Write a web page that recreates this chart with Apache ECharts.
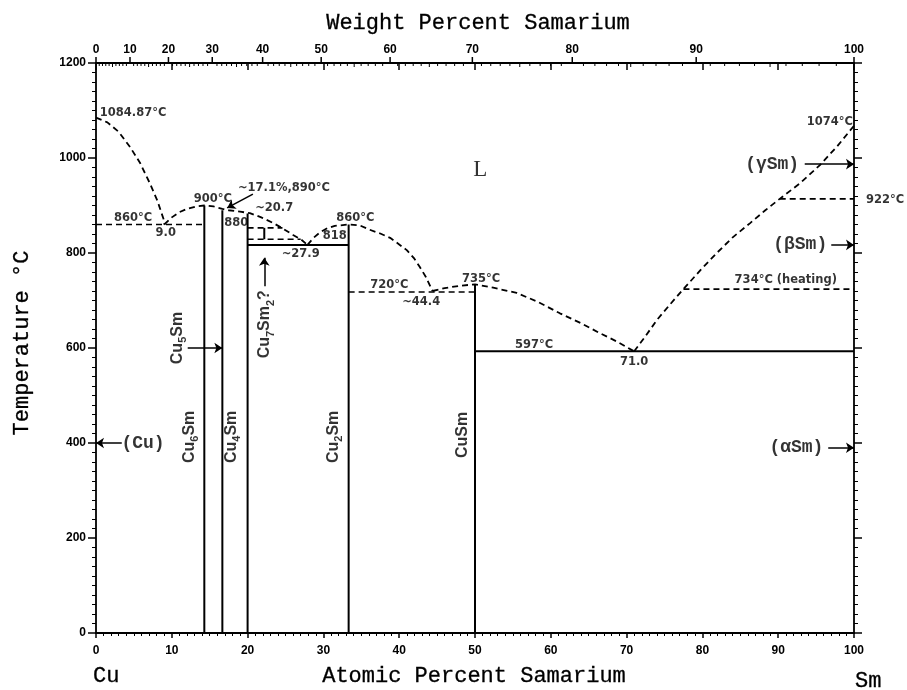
<!DOCTYPE html>
<html><head><meta charset="utf-8">
<script src="https://cdn.jsdelivr.net/npm/echarts@6.0.0/dist/echarts.min.js"></script>
<style>html,body{margin:0;padding:0;background:#fff}#c{width:907px;height:690px}</style>
</head><body><div id="c"></div>
<script>
// ---------- data (atomic % Sm, temperature °C) ----------
const atTicks = [0,10,20,30,40,50,60,70,80,90,100];
const tempTicks = [0,200,400,600,800,1000,1200];
const wtLabels = [0,10,20,30,40,50,60,70,80,90,100];

const cuLiquidus   = [[0,1085],[1.5,1075],[3,1055],[4.5,1023],[5.8,990],[7.1,947],[8.1,910],[8.9,872],[9,860]];
const cu6SmLiquidus = [[9,860],[10,875],[11,886],[12,893],[13.2,898],[14.29,900],[15.5,898],[16.67,893],[17.5,890],[19,887],[20.3,884],[21.8,875],[23.4,863],[24.7,851],[26,838],[27.1,828],[27.9,817]];
const cu2SmLiquidus = [[27.9,817],[28.7,832],[29.6,844],[30.5,852],[31.5,857],[33.33,860],[34.8,858],[36.1,849],[37.5,841],[38.8,832],[40,818],[41,806],[42,788],[42.7,771],[43.5,750],[44.4,720]];
const cuSmLiquidus  = [[44.4,720],[46,726],[48,731],[50,734],[52.4,727],[55.5,716],[58.3,697],[61.2,673],[64,652],[66.5,631],[68.8,613],[71,593]];
const smLiquidus    = [[71,593],[72.5,625],[74,659],[75.8,693],[77.5,724],[79.8,765],[81.9,800],[84,833],[86.3,863],[88.3,890],[90.2,914],[92.9,947],[95.5,985],[97.8,1025],[100,1068]];

const dashedIsotherms = [
  [[0,860],[14.29,860]],
  [[20,853],[24.6,853]],
  [[20,829],[27,829]],
  [[33.33,718],[50,718]],
  [[77.5,724],[100,724]],
  [[90.2,914],[100,914]]
];
const solidLines = [
  [[14.29,0],[14.29,900]],
  [[16.67,0],[16.67,890]],
  [[20,0],[20,883]],
  [[20,817],[33.33,817]],
  [[33.33,0],[33.33,860]],
  [[50,0],[50,734]],
  [[50,593],[100,593]],
  [[22.2,829],[22.2,853]]
];
const arrows = [
  [[3.4,400],[0,400]],
  [[12.1,600],[16.67,600]],
  [[22.2,730],[22.2,790]],
  [[93.5,987],[100,987]],
  [[97.0,817],[100,817]],
  [[96.6,390],[100,390]],
  [[20.7,924],[17.3,895]]
];
// [text, at%, °C, align]
const notes = [
  ['1084.87°C',0.5,1095,'left'],
  ['860°C',4.9,874,'center'],
  ['9.0',9.2,842,'center'],
  ['900°C',15.4,914,'center'],
  ['~17.1%,890°C',24.8,937,'center'],
  ['880',18.5,863,'center'],
  ['~20.7',23.5,895,'center'],
  ['818',31.5,836,'center'],
  ['~27.9',27.0,798,'center'],
  ['860°C',34.2,874,'center'],
  ['720°C',38.7,733,'center'],
  ['~44.4',42.9,697,'center'],
  ['735°C',50.8,745,'center'],
  ['597°C',57.8,606,'center'],
  ['71.0',71.0,571,'center'],
  ['734°C (heating)',91.0,743,'center'],
  ['922°C',104.1,912,'center'],
  ['1074°C',96.8,1076,'center']
];
const phaseNotes = [
  ['(γSm)',89.2,987],
  ['(βSm)',92.9,817],
  ['(αSm)',92.4,390],
  ['(Cu)',6.2,400]
];
// vertical compound labels: [formatter, at%, °C]
const compounds = [
  ['{n|Cu}{s|6}{n|Sm}',12.3,413],
  ['{n|Cu}{s|4}{n|Sm}',17.9,413],
  ['{n|Cu}{s|2}{n|Sm}',31.3,413],
  ['{n|CuSm}',48.4,417],
  ['{n|Cu}{s|5}{n|Sm}',10.8,621],
  ['{n|Cu}{s|7}{n|Sm}{s|2}{n|?}',22.3,650]
];

function wtToAt(w){
  if (w >= 100) return 100;
  const a = w/150.36, b = (100-w)/63.546;
  return a/(a+b)*100;
}
const wtTickValues = [];
for (let w=0; w<=100; w++) wtTickValues.push(w);

const SANS = '"Liberation Sans", Arial, sans-serif';
const DSANS = '"DejaVu Sans", "Liberation Sans", sans-serif';
const MONO = '"Liberation Mono", "Courier New", monospace';
const SERIF = '"Liberation Serif", "Times New Roman", serif';

const chart = echarts.init(document.getElementById('c'), null, {renderer:'canvas'});
const series = [];
function lineSeries(data, dashed, w){
  series.push({type:'line', data, showSymbol:false, symbol:'none', silent:true, animation:false,
    lineStyle:{color:'#000', width:w, type: dashed ? [6,4] : 'solid'}, z:3});
}
[cuLiquidus, cu6SmLiquidus, cu2SmLiquidus, cuSmLiquidus, smLiquidus].forEach(d=>lineSeries(d,true,1.8));
dashedIsotherms.forEach(d=>lineSeries(d,true,1.6));
solidLines.forEach(d=>lineSeries(d,false,2));

series.push({type:'lines', coordinateSystem:'cartesian2d', silent:true, animation:false,
  symbol:['none','arrow'], symbolSize:8,
  lineStyle:{color:'#000', width:1.5, opacity:1},
  data: arrows.map(a=>({coords:a})), z:4});

function textSeries(data, label){
  series.push({type:'scatter', silent:true, animation:false, clip:false, symbolSize:1,
    itemStyle:{color:'rgba(0,0,0,0)'},
    data, label:Object.assign({show:true, position:'inside', formatter:p=>p.name, color:'#000'}, label), z:5});
}
textSeries(notes.map(n=>({value:[n[1],n[2]], name:n[0], label:{align:n[3]}})),
  {fontFamily:DSANS, fontWeight:'bold', fontSize:11.5});
textSeries(phaseNotes.map(n=>({value:[n[1],n[2]], name:n[0]})),
  {fontFamily:MONO, fontWeight:'bold', fontSize:18});
textSeries([{value:[50.7,975], name:'L'}], {fontFamily:SERIF, fontSize:23});
textSeries(compounds.map(n=>({value:[n[1],n[2]], name:n[0]})),
  {rotate:90, rich:{
      n:{fontFamily:SANS, fontWeight:'bold', fontSize:16, lineHeight:22, color:'#000'},
      s:{fontFamily:SANS, fontWeight:'bold', fontSize:11, lineHeight:12, verticalAlign:'bottom', color:'#000'}
    }});

// top weight-percent scale
series.push({type:'custom', coordinateSystem:'cartesian2d', silent:true, animation:false, clip:false,
  encode:{x:0, y:1},
  data: wtTickValues.map(w=>[wtToAt(w),1200,w]),
  renderItem(params, api){
    const w = api.value(2);
    const p = api.coord([api.value(0), api.value(1)]);
    const kids = [];
    if (wtLabels.indexOf(w) >= 0){
      kids.push({type:'line', shape:{x1:p[0],y1:p[1],x2:p[0],y2:p[1]-6}, style:{stroke:'#000', lineWidth:1.5}});
      kids.push({type:'text', style:{text:String(w), x:p[0], y:p[1]-7, align:'center', verticalAlign:'bottom',
        font:'bold 12px ' + SANS, fill:'#000'}});
    } else {
      kids.push({type:'line', shape:{x1:p[0],y1:p[1],x2:p[0],y2:p[1]+(w%5===0?4:3)}, style:{stroke:'#000', lineWidth:1}});
    }
    return {type:'group', children:kids};
  }, z:6});

const axisCommon = {min:0, splitLine:{show:false}, axisLine:{show:true, onZero:false, lineStyle:{color:'#000', width:1.8}}};
const titleStyle = {font:'22px ' + MONO, fill:'#000', stroke:'#000', lineWidth:0.3, verticalAlign:'middle'};
chart.setOption({
  animation:false,
  backgroundColor:'#fff',
  grid:{left:96, right:53, top:63, bottom:57, containLabel:false},
  xAxis:[
    Object.assign({}, axisCommon, {type:'value', position:'bottom', max:100, interval:10,
      axisTick:{show:true, inside:false, length:5, lineStyle:{color:'#000', width:1.5}},
      minorTick:{show:true, splitNumber:10, length:3, lineStyle:{color:'#000', width:1}},
      axisLabel:{show:true, color:'#000', fontFamily:SANS, fontWeight:'bold', fontSize:12, margin:12,
        formatter:v=>atTicks.indexOf(v)>=0?String(v):''}}),
    Object.assign({}, axisCommon, {type:'value', position:'top', max:100, interval:10,
      axisTick:{show:true, inside:true, length:7, lineStyle:{color:'#000', width:1.5}},
      axisLabel:{show:false}})
  ],
  yAxis:[
    Object.assign({}, axisCommon, {type:'value', position:'left', max:1200, interval:200,
      axisTick:{show:true, inside:false, length:8, lineStyle:{color:'#000', width:1.5}},
      minorTick:{show:true, splitNumber:10, length:4, lineStyle:{color:'#000', width:1}},
      axisLabel:{show:true, color:'#000', fontFamily:SANS, fontWeight:'bold', fontSize:12, margin:10,
        formatter:v=>tempTicks.indexOf(v)>=0?String(v):''}}),
    Object.assign({}, axisCommon, {type:'value', position:'right', max:1200, interval:200,
      axisTick:{show:true, inside:false, length:8, lineStyle:{color:'#000', width:1.5}},
      minorTick:{show:true, splitNumber:10, length:4, lineStyle:{color:'#000', width:1}},
      axisLabel:{show:false}})
  ],
  graphic:[
    {type:'text', x:478, y:23, style:Object.assign({text:'Weight Percent Samarium', align:'center'}, titleStyle)},
    {type:'text', x:474, y:676, style:Object.assign({text:'Atomic Percent Samarium', align:'center'}, titleStyle)},
    {type:'text', x:93, y:676, style:Object.assign({text:'Cu', align:'left'}, titleStyle)},
    {type:'text', x:855, y:681, style:Object.assign({text:'Sm', align:'left'}, titleStyle)},
    {type:'text', x:22, y:343, rotation:Math.PI/2, style:Object.assign({text:'Temperature °C', align:'center'}, titleStyle)}
  ],
  series
});
</script></body></html>
